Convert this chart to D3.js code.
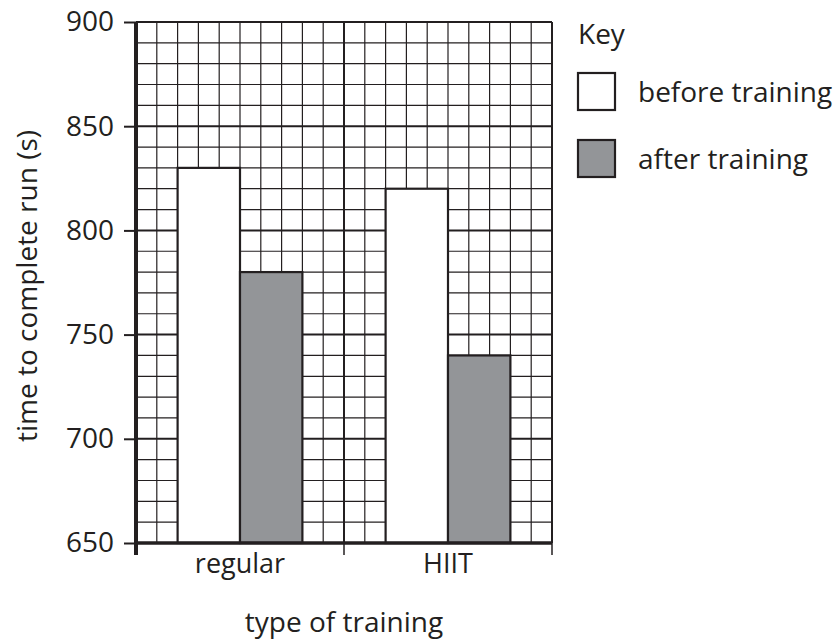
<!DOCTYPE html>
<html><head><meta charset="utf-8">
<script src="https://cdn.jsdelivr.net/npm/d3@7"></script>
<style>body{margin:0;background:#fff}text{font-family:"Open Sans",sans-serif;fill:#231f20}</style>
</head><body><svg id="c" width="837" height="642"></svg>
<script>
const categories = ["regular", "HIIT"];
const seriesNames = ["before training", "after training"];
const beforeValues = [830, 820];
const afterValues = [780, 740];
const yTicks = [650, 700, 750, 800, 850, 900];
const seriesColors = ["#ffffff", "#939598"];

const ink = "#231f20";
const svg = d3.select("#c");
const L = 136, R = 552, T = 22, B = 543;
const y = d3.scaleLinear().domain([650, 900]).range([B, T]);
const x = d3.scaleBand().domain(categories).range([L, R]).padding(0);
const xs = d3.scaleBand().domain(seriesNames).range([x.bandwidth()*0.2, x.bandwidth()*0.8]).padding(0);

// grid
const g = svg.append("g");
const minorY = d3.range(650, 901, 10);
g.selectAll(".hy").data(minorY).join("line")
  .attr("x1", L).attr("x2", R).attr("y1", d => y(d)).attr("y2", d => y(d))
  .attr("stroke", ink).attr("stroke-width", d => d % 50 === 0 ? 2 : 1.2);
const xg = d3.scaleLinear().domain([0, 20]).range([L, R]);
g.selectAll(".vx").data(d3.range(0, 21)).join("line")
  .attr("y1", T).attr("y2", B).attr("x1", d => xg(d)).attr("x2", d => xg(d))
  .attr("stroke", ink).attr("stroke-width", d => d % 10 === 0 ? 2 : 1.2);

// bars
const data = [];
categories.forEach((c, i) => {
  data.push({c, s: seriesNames[0], v: beforeValues[i], col: seriesColors[0]});
  data.push({c, s: seriesNames[1], v: afterValues[i], col: seriesColors[1]});
});
svg.selectAll(".bar").data(data).join("rect")
  .attr("x", d => x(d.c) + xs(d.s)).attr("width", xs.bandwidth())
  .attr("y", d => y(d.v)).attr("height", d => B - y(d.v))
  .attr("fill", d => d.col).attr("stroke", ink).attr("stroke-width", 2.2);

// axes
const ya = svg.append("g").attr("transform", `translate(${L},0)`)
  .call(d3.axisLeft(y).tickValues(yTicks).tickSize(12).tickPadding(10));
ya.select(".domain").remove();
ya.append("line").attr("x1", 0).attr("x2", 0).attr("y1", T).attr("y2", B + 12).attr("stroke", ink).attr("stroke-width", 4);
ya.selectAll(".tick line").attr("stroke", ink).attr("stroke-width", 2);
ya.selectAll(".tick text").attr("font-size", 28).attr("fill", ink);

const xa = svg.append("g").attr("transform", `translate(0,${B})`)
  .call(d3.axisBottom(x).tickSize(0).tickPadding(11));
xa.select(".domain").remove();
xa.append("line").attr("x1", L).attr("x2", R).attr("y1", 0).attr("y2", 0).attr("stroke", ink).attr("stroke-width", 3.5);
xa.selectAll(".xt").data([0, 10, 20]).join("line")
  .attr("x1", d => xg(d)).attr("x2", d => xg(d)).attr("y1", 0).attr("y2", 12)
  .attr("stroke", ink).attr("stroke-width", d => d === 0 ? 4 : 1.5);
xa.selectAll(".tick text").attr("font-size", 27).attr("fill", ink);

svg.append("text").attr("x", 344).attr("y", 632).attr("text-anchor", "middle")
  .attr("font-size", 28).text("type of training");
svg.append("text").attr("transform", "translate(37,286) rotate(-90)").attr("text-anchor", "middle")
  .attr("font-size", 28).text("time to complete run (s)");

// legend
svg.append("text").attr("x", 578).attr("y", 44).attr("font-size", 28).text("Key");
seriesNames.forEach((s, i) => {
  const yy = 73 + i * 67;
  svg.append("rect").attr("x", 578).attr("y", yy).attr("width", 37).attr("height", 37)
    .attr("fill", seriesColors[i]).attr("stroke", ink).attr("stroke-width", 2.2);
  svg.append("text").attr("x", 638).attr("y", yy + 29).attr("font-size", 28).text(s);
});
</script></body></html>
